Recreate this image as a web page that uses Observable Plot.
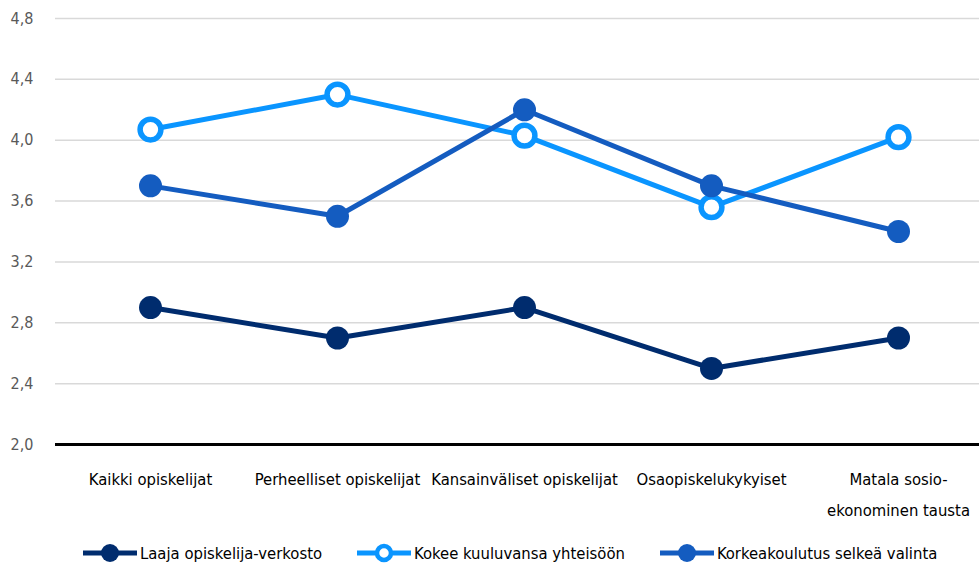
<!DOCTYPE html>
<html>
<head>
<meta charset="utf-8">
<script src="https://cdn.jsdelivr.net/npm/d3@7"></script>
<script src="https://cdn.jsdelivr.net/npm/@observablehq/plot@0.6"></script>
<style>
  html, body { margin: 0; padding: 0; background: #fff; }
  body { width: 979px; height: 568px; overflow: hidden; font-family: "DejaVu Sans Condensed", sans-serif; }
  #legend { display: flex; justify-content: flex-start; align-items: center; gap: 34px; padding-left: 82px; margin-top: 19px; font-size: 16.5px; color: #000; }
  .item { display: flex; align-items: center; gap: 2px; }
</style>
</head>
<body>
<div id="chart"></div>
<div id="legend"></div>
<script>
const categories = ["Kaikki opiskelijat", "Perheelliset opiskelijat", "Kansainväliset opiskelijat", "Osaopiskelukykyiset", "Matala sosio-ekonominen tausta"];
const tickLabels = ["Kaikki opiskelijat", "Perheelliset opiskelijat", "Kansainväliset opiskelijat", "Osaopiskelukykyiset", "Matala sosio-\nekonominen tausta"];
const seriesNames = ["Laaja opiskelija-verkosto", "Kokee kuuluvansa yhteisöön", "Korkeakoulutus selkeä valinta"];
const laaja = [2.9, 2.7, 2.9, 2.5, 2.7];
const kokee = [4.07, 4.3, 4.03, 3.56, 4.02];
const korkea = [3.7, 3.5, 4.2, 3.7, 3.4];
const colors = ["#002c6e", "#0a95ff", "#145cc0"];
const hollow = [false, true, false];
const yTicks = [2.0, 2.4, 2.8, 3.2, 3.6, 4.0, 4.4, 4.8];

const values = [laaja, kokee, korkea];
const data = [];
seriesNames.forEach((s, i) => categories.forEach((c, j) => data.push({series: s, cat: c, value: values[i][j], idx: i})));

const fmtComma = d => d.toFixed(1).replace(".", ",");
const labelOf = new Map(categories.map((c, i) => [c, tickLabels[i]]));

const marks = [
  Plot.gridY(yTicks.filter(t => t > 2.0), {stroke: "#d9d9d9", strokeOpacity: 1, strokeWidth: 1.5}),
  Plot.ruleY([2.0], {stroke: "#000", strokeWidth: 3}),
  Plot.axisY(yTicks, {tickSize: 0, tickPadding: 22, tickFormat: fmtComma, fontSize: 16, fill: "#595959"}),
  Plot.axisX({tickSize: 0, tickPadding: 19, tickFormat: d => labelOf.get(d), fontSize: 16.5, fill: "#000", lineHeight: 1.85})
];
seriesNames.forEach((s, i) => {
  const d = data.filter(r => r.idx === i);
  marks.push(Plot.line(d, {x: "cat", y: "value", stroke: colors[i], strokeWidth: 5}));
  marks.push(Plot.dot(d, hollow[i]
    ? {x: "cat", y: "value", r: 10.4, fill: "#fff", stroke: colors[i], strokeWidth: 5.5}
    : {x: "cat", y: "value", r: 11.5, fill: colors[i], stroke: "none"}));
});

const chart = Plot.plot({
  width: 979,
  height: 522,
  marginTop: 18,
  marginLeft: 55,
  marginRight: 0,
  marginBottom: 78,
  style: {fontFamily: "'DejaVu Sans Condensed', sans-serif", fontSize: "16px", background: "#fff"},
  x: {type: "point", domain: categories, padding: 0.5, range: [55, 992], label: null},
  y: {domain: [2.0, 4.8], label: null},
  marks
});
document.getElementById("chart").appendChild(chart);

const legend = document.getElementById("legend");
seriesNames.forEach((s, i) => {
  const item = document.createElement("div");
  item.className = "item";
  const sw = hollow[i]
    ? `<svg width="56" height="24"><line x1="1" y1="12" x2="55" y2="12" stroke="${colors[i]}" stroke-width="5"/><circle cx="28" cy="12" r="7" fill="#fff" stroke="${colors[i]}" stroke-width="4.5"/></svg>`
    : `<svg width="56" height="24"><line x1="1" y1="12" x2="55" y2="12" stroke="${colors[i]}" stroke-width="5"/><circle cx="28" cy="12" r="9" fill="${colors[i]}"/></svg>`;
  item.innerHTML = sw + `<span>${s}</span>`;
  legend.appendChild(item);
});
</script>
</body>
</html>
